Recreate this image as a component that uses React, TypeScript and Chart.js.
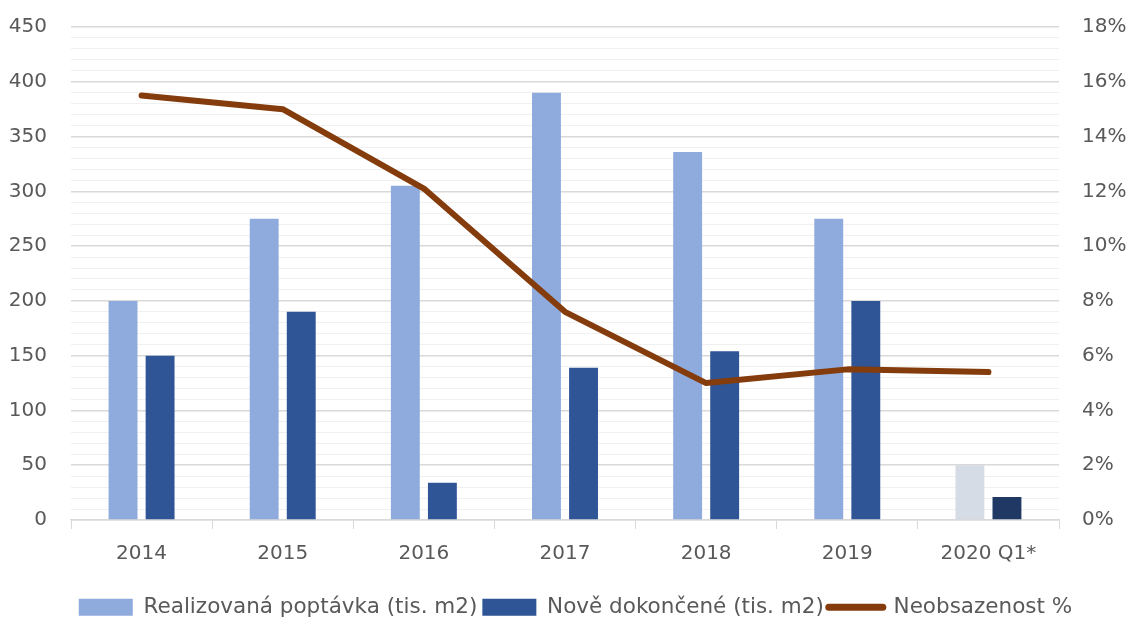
import React, { useEffect, useRef } from 'react';
import { Chart, registerables } from 'chart.js';

Chart.register(...registerables);

const categories = ['2014', '2015', '2016', '2017', '2018', '2019', '2020 Q1*'];
const demandValues = [200, 275, 305, 390, 336, 275, 50];
const completedValues = [150, 190, 34, 139, 154, 200, 21];
const vacancyValues = [15.5, 15.0, 12.1, 7.6, 5.0, 5.5, 5.4];

const seriesNames = ['Realizovaná poptávka (tis. m2)', 'Nově dokončené (tis. m2)', 'Neobsazenost %'];
const demandColors = ['#8FAADC', '#8FAADC', '#8FAADC', '#8FAADC', '#8FAADC', '#8FAADC', '#D6DCE5'];
const completedColors = ['#2F5597', '#2F5597', '#2F5597', '#2F5597', '#2F5597', '#2F5597', '#203864'];
const lineColor = '#843C0C';

const FONT = 'DejaVu Sans';
const TEXT = '#595959';

export default function App() {
  const ref = useRef<HTMLCanvasElement | null>(null);

  useEffect(() => {
    if (!ref.current) return;
    const legendShift = {
      id: 'legendShift',
      afterLayout(chart: any) {
        if (chart.legend) {
          chart.legend.top += 4;
          chart.legend.bottom += 4;
          chart.legend.left += 11;
          chart.legend.right += 11;
        }
      },
    };
    const vFit = (w: number) => (scale: any) => {
      scale.width = w;
      scale.paddingTop = 0;
      scale.paddingBottom = 0;
    };
    const chart = new Chart(ref.current, {
      type: 'bar',
      data: {
        labels: categories,
        datasets: [
          {
            type: 'bar',
            label: seriesNames[0],
            data: demandValues,
            backgroundColor: demandColors,
            yAxisID: 'y',
            order: 1,
            categoryPercentage: 0.525,
            barPercentage: 0.78,
          } as any,
          {
            type: 'bar',
            label: seriesNames[1],
            data: completedValues,
            backgroundColor: completedColors,
            yAxisID: 'y',
            order: 2,
            categoryPercentage: 0.525,
            barPercentage: 0.78,
          } as any,
          {
            type: 'line',
            label: seriesNames[2],
            data: vacancyValues,
            borderColor: lineColor,
            backgroundColor: lineColor,
            borderWidth: 6,
            borderJoinStyle: 'round',
            borderCapStyle: 'round',
            pointRadius: 0,
            tension: 0,
            yAxisID: 'y1',
            order: 0,
          } as any,
        ],
      },
      options: {
        responsive: true,
        maintainAspectRatio: false,
        animation: false,
        layout: { padding: { top: 27, left: 0, right: 0, bottom: 0 } },
        plugins: {
          tooltip: { enabled: false },
          legend: {
            position: 'bottom',
            labels: {
              sort: (a: any, b: any) => a.datasetIndex - b.datasetIndex,
              usePointStyle: true,
              pointStyleWidth: 54,
              boxHeight: 17,
              padding: 5,
              color: TEXT,
              font: { family: FONT, size: 21.5 },
              generateLabels: (chart: any) => {
                const items = Chart.defaults.plugins.legend.labels.generateLabels(chart);
                return items.map((it: any) => {
                  if (it.datasetIndex === 0) {
                    return { ...it, pointStyle: 'rect', fillStyle: '#8FAADC', strokeStyle: '#8FAADC', lineWidth: 0 };
                  }
                  if (it.datasetIndex === 1) {
                    return { ...it, pointStyle: 'rect', fillStyle: '#2F5597', strokeStyle: '#2F5597', lineWidth: 0 };
                  }
                  return { ...it, pointStyle: 'line', strokeStyle: lineColor, fillStyle: lineColor, lineWidth: 7, lineCap: 'round' };
                });
              },
            },
          },
        },
        scales: {
          x: {
            offset: true,
            grid: {
              offset: true,
              drawOnChartArea: false,
              drawTicks: true,
              tickLength: 9,
              color: '#D9D9D9',
            },
            border: { display: true, color: '#D9D9D9', width: 1.5 },
            ticks: {
              color: TEXT,
              font: { family: FONT, size: 20 },
              padding: 13,
              maxRotation: 0,
            },
            afterFit: (scale: any) => {
              scale.height = 67.5;
            },
          },
          y: {
            position: 'left',
            min: 0,
            max: 450,
            grid: {
              drawTicks: false,
              color: (ctx: any) => (ctx.tick && ctx.tick.value % 50 === 0 ? '#D9D9D9' : '#F0F0F0'),
              lineWidth: (ctx: any) => (ctx.tick && ctx.tick.value % 50 === 0 ? 1.5 : 1),
            },
            border: { display: false },
            ticks: {
              stepSize: 10,
              autoSkip: false,
              color: TEXT,
              font: { family: FONT, size: 20 },
              padding: 24,
              callback: (v: any) => (Number(v) % 50 === 0 ? String(v) : ''),
            },
            afterFit: vFit(71),
          },
          y1: {
            position: 'right',
            min: 0,
            max: 18,
            grid: { drawOnChartArea: false, drawTicks: false },
            border: { display: false },
            ticks: {
              stepSize: 2,
              autoSkip: false,
              color: TEXT,
              font: { family: FONT, size: 20 },
              padding: 23,
              callback: (v: any) => `${Math.round(Number(v))}%`,
            },
            afterFit: vFit(70),
          },
        },
      },
      plugins: [legendShift],
    } as any);
    return () => chart.destroy();
  }, []);

  return (
    <div style={{ position: 'absolute', left: 0, top: 0, width: 1129, height: 624, background: '#fff' }}>
      <canvas ref={ref} />
    </div>
  );
}
